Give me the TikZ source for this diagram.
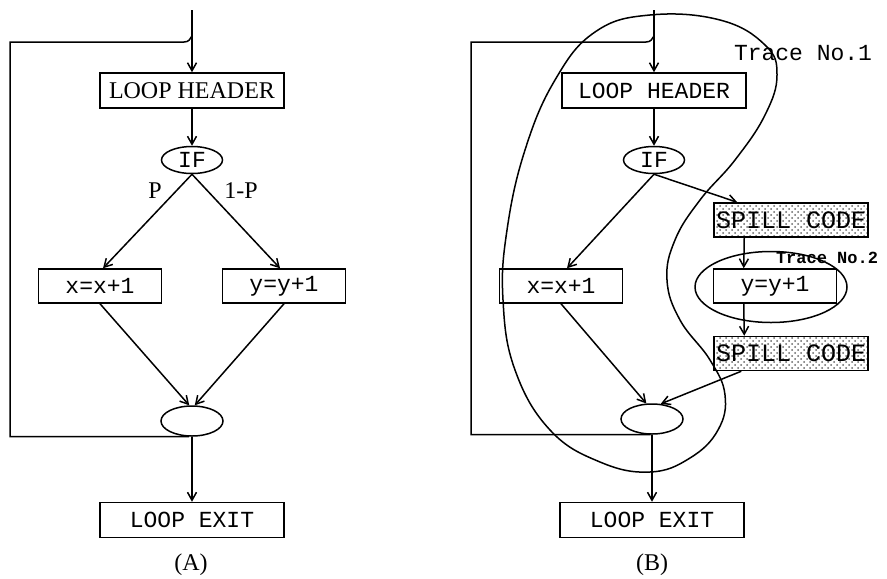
\documentclass[tikz,border=0pt]{standalone}
\usepackage{fontspec}
\setmainfont{Liberation Serif}
\setmonofont{Liberation Mono}
\usetikzlibrary{arrows.meta,shapes.geometric,patterns}

\begin{document}
\begin{tikzpicture}[x=0.5pt,y=-0.5pt,line width=0.75pt,
		block/.style={draw,inner sep=0pt,minimum width=61.5pt,minimum height=17pt,font=\ttfamily\fontsize{11.5}{13}\selectfont},
		wideblock/.style={block,minimum width=92pt,minimum height=17.5pt},
		spillbox/.style={block,minimum width=77pt,pattern=crosshatch dots,pattern color=black!60,font=\ttfamily\fontsize{12.5}{14}\selectfont},
		oval/.style={draw,ellipse,inner sep=0pt,minimum width=30.5pt,minimum height=13.5pt,font=\ttfamily\fontsize{11.5}{13}\selectfont},
		joint/.style={oval,minimum width=31pt,minimum height=15pt},
		flow/.style={-{Straight Barb[length=4pt,width=4.5pt]}}]
		\useasboundingbox (0,0) rectangle (887,578);
		% (A)
		\coordinate (inA) at (192,10);
		\coordinate (cornerA) at (10,42);
		\coordinate (hookA) at (184,42);
		\node[wideblock,font=\rmfamily\fontsize{12}{14}\selectfont] (hdrA) at (192,90.5) {LOOP HEADER};
		\node[oval] (ifA) at (192,160) {IF};
		\node[block] (xA) at (100,286) {x=x+1};
		\node[block] (yA) at (284,286) {y=y+1};
		\node[joint] (mergeA) at (192,421) {};
		\node[wideblock] (exitA) at (192,520) {LOOP EXIT};
		\node[font=\fontsize{12}{14}\selectfont] (pA) at (155,191) {P};
		\node[font=\fontsize{12}{14}\selectfont] (qA) at (241,191) {1-P};
		\node[font=\fontsize{12}{14}\selectfont] (capA) at (191,565) {(A)};
		\draw[flow] (inA) -- (hdrA);
		\draw[flow] (hdrA) -- (ifA);
		\draw[flow] (ifA.south) -- ([xshift=1.5pt]xA.north);
		\draw[flow] (ifA.south) -- ([xshift=-2pt]yA.north);
		\draw[flow] (xA.south) -- (mergeA.100);
		\draw[flow] (yA.south) -- (mergeA.80);
		\draw[flow] (mergeA) -- (exitA);
		\draw (mergeA.-100) -| (cornerA) -- (hookA) .. controls (189,42) and (190,39) .. (192,36);
		% (B)
		\coordinate (inB) at (654,10);
		\coordinate (cornerB) at (471,42);
		\coordinate (hookB) at (646,42);
		\node[wideblock] (hdrB) at (654,90.5) {LOOP HEADER};
		\node[oval] (ifB) at (654,160) {IF};
		\node[block] (xB) at (561,286) {x=x+1};
		\node[spillbox] (spillB) at (791,220) {SPILL CODE};
		\node[block] (yB) at (775,286) {y=y+1};
		\node[spillbox] (spillC) at (791,353.5) {SPILL CODE};
		\node[joint] (mergeB) at (652,419) {};
		\node[wideblock] (exitB) at (652,520) {LOOP EXIT};
		\node[font=\fontsize{12}{14}\selectfont] (capB) at (652,565) {(B)};
		\node[font=\ttfamily\fontsize{11.5}{13}\selectfont] (traceA) at (803,53) {Trace No.1};
		\node[font=\ttfamily\bfseries\fontsize{8.5}{10}\selectfont] (traceB) at (827,258) {Trace No.2};
		\draw (771,287) ellipse [x radius=38pt,y radius=17.75pt];
		\draw plot[smooth cycle,tension=0.7] coordinates {(650,15) (720,20) (765,45) (777,75) (765,115) (735,160) (700,200) (675,240) (667,280) (680,320) (710,360) (725,395) (718,430) (690,458) (650,472) (600,462) (550,430) (515,370) (503,300) (507,230) (525,150) (555,80) (595,32)};
		\draw[flow] (inB) -- (hdrB);
		\draw[flow] (hdrB) -- (ifB);
		\draw[flow] (ifB.south) -- ([xshift=3pt]xB.north);
		\draw[flow] (ifB.south) -- ([xshift=12pt]spillB.north west);
		\draw[flow] ([xshift=15.5pt]spillB.south west) -- ([xshift=15.5pt]yB.north west);
		\draw[flow] ([xshift=15.5pt]yB.south west) -- ([xshift=15.5pt]spillC.north west);
		\draw[flow] ([xshift=14pt]spillC.south west) -- (mergeB.60);
		\draw[flow] (xB.south) -- (mergeB.110);
		\draw[flow] (mergeB) -- (exitB);
		\draw (mergeB.-95) -| (cornerB) -- (hookB) .. controls (651,42) and (652,39) .. (654,36);
	\end{tikzpicture}
\end{document}
